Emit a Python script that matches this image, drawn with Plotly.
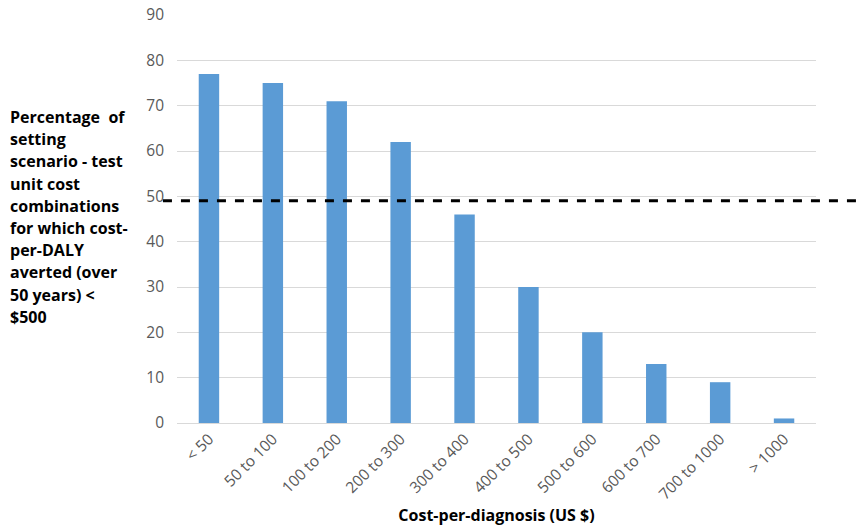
import plotly.graph_objects as go

categories = ["< 50", "50 to 100", "100 to 200", "200 to 300", "300 to 400",
              "400 to 500", "500 to 600", "600 to 700", "700 to 1000", "> 1000"]
values = [77, 75, 71, 62, 46, 30, 20, 13, 9, 1]
threshold = 49
y_label_lines = ["Percentage  of", "setting", "scenario - test", "unit cost",
                 "combinations", "for which cost-", "per-DALY", "averted (over",
                 "50 years) <", "$500"]

fig = go.Figure()
fig.add_trace(go.Bar(x=categories, y=values, marker_color="#5B9BD5",
                     marker_line_width=0))

fig.add_shape(type="line", xref="paper", yref="y", x0=-0.022, x1=1.066,
              y0=threshold, y1=threshold,
              line=dict(color="black", width=3, dash="dash"))

# multi-line y label, one annotation per line for Excel-like line spacing
plot_h = 408.0
top_px = 117.0  # vertical centre of first line, in page px
step_px = 22.2
for i, line in enumerate(y_label_lines):
    ypix = top_px + i * step_px
    fig.add_annotation(xref="paper", yref="paper", x=-169 / 639.0,
                       y=1 - (ypix - 15) / plot_h,
                       xanchor="left", yanchor="middle", showarrow=False,
                       text="<b>" + line + "</b>",
                       font=dict(family="Open Sans", size=16, color="black"))

fig.update_layout(
    width=863, height=526,
    margin=dict(l=177, r=47, t=15, b=103),
    plot_bgcolor="white", paper_bgcolor="white",
    bargap=0.68, showlegend=False,
    font=dict(family="Open Sans", size=15.5, color="#595959"),
    xaxis=dict(tickangle=-45, showgrid=False, showline=True, automargin=False,
               linecolor="#d9d9d9", ticks="",
               title=dict(text="<b>Cost-per-diagnosis (US $)</b>",
                          font=dict(size=16, color="black"), standoff=8)),
    yaxis=dict(range=[0, 90], dtick=10, showgrid=True, gridcolor="#d9d9d9",
               automargin=False, zeroline=False, ticks="", ticklabelstandoff=12,
               ticklabeloverflow="allow"),
)

# remove the default page margin so the figure fills the window exactly
fig.write_html("out.html", config={"displayModeBar": False},
               post_script="document.body.style.margin='0';document.body.style.overflow='hidden';")
